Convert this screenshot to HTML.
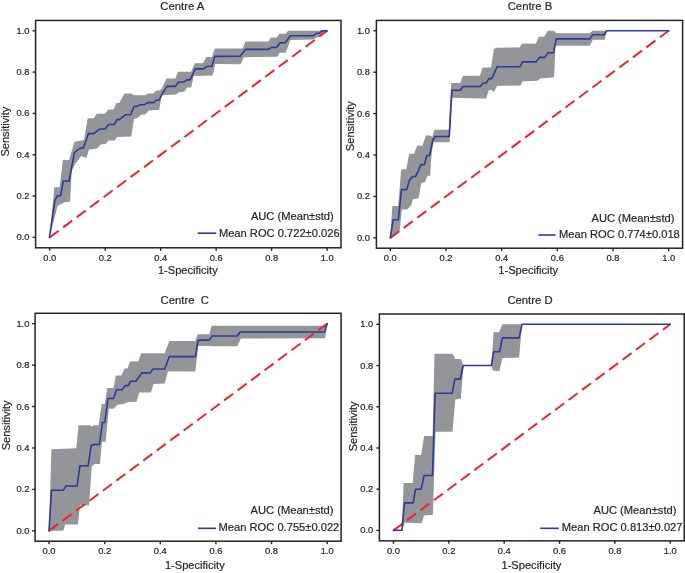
<!DOCTYPE html>
<html><head><meta charset="utf-8"><style>
html,body{margin:0;padding:0;background:#fff;}
svg{display:block;will-change:transform;}
text{font-family:"Liberation Sans", sans-serif;fill:#262626;stroke:#262626;stroke-width:0.2px;}
</style></head><body>
<svg width="685" height="573" viewBox="0 0 685 573">
<rect width="685" height="573" fill="#fff"/>
<polygon points="49.5,237.4 54.4,187.3 59.7,187.3 62.8,160.0 69.1,160.0 74.4,141.7 82.9,140.2 84.0,140.0 87.7,118.3 93.8,118.3 96.8,113.8 105.1,113.8 108.3,109.4 113.6,109.4 116.4,103.1 119.3,103.1 124.4,93.5 131.2,93.5 134.0,95.2 145.4,95.2 147.6,93.5 153.3,93.5 156.1,90.5 159.2,90.6 161.8,88.5 166.5,78.6 175.4,78.6 178.0,71.7 191.1,71.7 194.8,63.2 203.1,63.2 206.3,57.1 212.0,57.1 214.7,48.6 242.7,48.6 245.4,41.5 268.4,41.5 271.0,37.4 276.8,37.4 279.5,33.8 285.7,33.8 288.0,30.8 327.1,30.8 327.1,30.8 319.3,37.1 316.5,37.6 313.6,39.4 290.4,39.9 285.7,52.7 279.5,52.7 277.1,56.7 243.8,57.2 240.6,64.3 215.2,64.1 212.6,75.4 193.7,75.9 191.1,87.4 187.4,87.4 184.3,91.6 179.1,92.2 175.9,94.6 161.8,95.3 159.2,110.0 154.4,110.0 148.8,110.5 145.4,114.3 140.8,115.0 137.4,117.9 134.0,119.0 131.2,136.6 117.0,136.9 114.7,140.6 108.5,140.6 105.7,144.0 100.5,144.4 97.4,148.5 89.0,149.6 86.4,158.0 81.2,155.9 75.4,163.7 71.7,171.0 70.1,201.5 63.8,202.5 62.3,203.6 57.6,205.7 49.5,237.4" fill="#949599"/>
<line x1="49.72" y1="237.37" x2="327.10" y2="30.78" stroke="#e9252d" stroke-width="2" stroke-dasharray="11.2 5.6"/>
<polyline points="49.5,237.4 54.9,200.4 57.6,195.7 60.7,195.7 63.3,181.0 69.1,181.0 71.7,166.8 74.4,152.7 79.6,148.5 83.3,147.9 85.9,141.0 88.5,133.6 93.8,133.6 99.5,129.0 105.1,129.0 108.4,124.5 114.2,124.5 117.0,119.6 119.3,119.6 125.5,114.7 130.6,114.7 134.0,106.5 136.3,106.5 140.3,104.8 144.2,104.8 147.6,102.6 153.3,102.6 156.5,100.2 159.2,100.0 162.3,93.7 167.0,86.4 175.4,86.4 178.6,82.0 183.8,82.0 186.9,79.9 190.1,79.9 195.3,68.9 203.7,68.9 206.8,66.3 212.0,66.3 214.7,56.4 240.1,56.2 245.4,49.4 268.4,49.4 271.5,47.3 276.7,47.5 280.0,42.8 285.2,42.8 290.4,35.7 313.2,35.7 316.5,33.3 319.3,33.3 321.7,30.9 327.1,30.8" fill="none" stroke="#2f3a98" stroke-width="1.6" stroke-linejoin="round" stroke-linecap="square"/>
<rect x="35.60" y="20.45" width="305.40" height="227.35" fill="none" stroke="#252224" stroke-width="1.5"/>
<line x1="49.72" y1="247.80" x2="49.72" y2="250.80" stroke="#252224" stroke-width="1.4"/>
<line x1="32.60" y1="237.37" x2="35.60" y2="237.37" stroke="#252224" stroke-width="1.4"/>
<text transform="translate(49.72 260.75) scale(1.11 1)" font-size="8.4" text-anchor="middle">0.0</text>
<text transform="translate(29.50 240.37) scale(1.11 1)" font-size="8.4" text-anchor="end">0.0</text>
<line x1="105.20" y1="247.80" x2="105.20" y2="250.80" stroke="#252224" stroke-width="1.4"/>
<line x1="32.60" y1="196.05" x2="35.60" y2="196.05" stroke="#252224" stroke-width="1.4"/>
<text transform="translate(105.20 260.75) scale(1.11 1)" font-size="8.4" text-anchor="middle">0.2</text>
<text transform="translate(29.50 199.05) scale(1.11 1)" font-size="8.4" text-anchor="end">0.2</text>
<line x1="160.67" y1="247.80" x2="160.67" y2="250.80" stroke="#252224" stroke-width="1.4"/>
<line x1="32.60" y1="154.73" x2="35.60" y2="154.73" stroke="#252224" stroke-width="1.4"/>
<text transform="translate(160.67 260.75) scale(1.11 1)" font-size="8.4" text-anchor="middle">0.4</text>
<text transform="translate(29.50 157.73) scale(1.11 1)" font-size="8.4" text-anchor="end">0.4</text>
<line x1="216.15" y1="247.80" x2="216.15" y2="250.80" stroke="#252224" stroke-width="1.4"/>
<line x1="32.60" y1="113.42" x2="35.60" y2="113.42" stroke="#252224" stroke-width="1.4"/>
<text transform="translate(216.15 260.75) scale(1.11 1)" font-size="8.4" text-anchor="middle">0.6</text>
<text transform="translate(29.50 116.42) scale(1.11 1)" font-size="8.4" text-anchor="end">0.6</text>
<line x1="271.62" y1="247.80" x2="271.62" y2="250.80" stroke="#252224" stroke-width="1.4"/>
<line x1="32.60" y1="72.10" x2="35.60" y2="72.10" stroke="#252224" stroke-width="1.4"/>
<text transform="translate(271.62 260.75) scale(1.11 1)" font-size="8.4" text-anchor="middle">0.8</text>
<text transform="translate(29.50 75.10) scale(1.11 1)" font-size="8.4" text-anchor="end">0.8</text>
<line x1="327.10" y1="247.80" x2="327.10" y2="250.80" stroke="#252224" stroke-width="1.4"/>
<line x1="32.60" y1="30.78" x2="35.60" y2="30.78" stroke="#252224" stroke-width="1.4"/>
<text transform="translate(327.10 260.75) scale(1.11 1)" font-size="8.4" text-anchor="middle">1.0</text>
<text transform="translate(29.50 33.78) scale(1.11 1)" font-size="8.4" text-anchor="end">1.0</text>
<text x="160.30" y="9.60" font-size="11.3">Centre A</text>
<text transform="translate(9.20 131.65) rotate(-90)" font-size="11.1" text-anchor="middle">Sensitivity</text>
<text x="157.90" y="273.50" font-size="11.1">1-Specificity</text>
<text x="250.90" y="219.70" font-size="11.15">AUC (Mean±std)</text>
<text x="218.90" y="236.60" font-size="11.15">Mean ROC 0.722±0.026</text>
<line x1="197.60" y1="233.20" x2="216.30" y2="233.20" stroke="#2f3a98" stroke-width="1.6"/>
<polygon points="390.3,237.9 392.3,206.1 398.3,206.1 401.1,169.5 406.3,169.3 409.1,153.7 414.0,153.7 417.4,145.3 422.3,146.0 426.0,135.5 430.5,135.5 432.3,137.0 434.5,129.7 448.8,129.7 451.2,83.1 460.2,83.1 463.0,75.8 479.8,75.8 482.6,67.4 491.0,67.4 493.8,49.5 495.8,47.7 519.4,47.4 522.3,43.5 535.9,43.7 538.7,36.8 544.3,36.8 547.8,30.8 554.1,30.8 556.2,33.3 589.7,33.3 592.5,30.8 668.7,30.8 668.7,30.8 606.7,30.8 604.7,39.7 592.9,39.7 589.7,45.8 555.5,45.8 554.1,77.2 546.4,77.9 540.1,78.6 537.3,80.7 522.8,81.2 520.4,85.5 497.2,85.8 493.8,92.1 491.7,90.0 488.9,90.0 486.1,98.4 481.2,98.4 452.2,97.7 449.6,142.3 433.3,142.3 431.0,160.0 430.2,175.8 427.6,175.8 425.0,182.0 421.3,183.0 418.5,198.4 412.9,199.1 411.5,204.7 407.3,209.6 401.8,209.6 399.7,230.5 390.3,237.9" fill="#949599"/>
<line x1="390.30" y1="237.85" x2="668.70" y2="30.75" stroke="#e9252d" stroke-width="2" stroke-dasharray="11.2 5.6"/>
<polyline points="390.3,237.9 393.1,219.8 398.3,219.8 401.5,189.6 406.6,189.6 409.9,179.6 412.7,176.5 415.3,176.5 418.1,171.5 420.9,164.6 424.4,164.6 426.8,155.5 429.5,155.5 432.8,140.0 435.2,136.5 449.2,136.5 451.9,90.3 460.2,90.3 463.0,86.5 480.5,86.5 483.3,83.0 486.1,83.0 488.9,78.6 491.7,78.6 497.2,66.7 519.9,66.7 522.7,61.9 535.9,61.9 539.4,57.4 545.0,57.4 547.8,52.8 553.4,52.8 556.2,38.9 589.9,38.9 592.7,34.7 604.1,34.7 606.7,30.8 668.7,30.8" fill="none" stroke="#2f3a98" stroke-width="1.6" stroke-linejoin="round" stroke-linecap="square"/>
<rect x="376.40" y="20.40" width="306.20" height="227.80" fill="none" stroke="#252224" stroke-width="1.5"/>
<line x1="390.30" y1="248.20" x2="390.30" y2="251.20" stroke="#252224" stroke-width="1.4"/>
<line x1="373.40" y1="237.85" x2="376.40" y2="237.85" stroke="#252224" stroke-width="1.4"/>
<text transform="translate(390.30 261.15) scale(1.11 1)" font-size="8.4" text-anchor="middle">0.0</text>
<text transform="translate(369.90 240.85) scale(1.11 1)" font-size="8.4" text-anchor="end">0.0</text>
<line x1="445.98" y1="248.20" x2="445.98" y2="251.20" stroke="#252224" stroke-width="1.4"/>
<line x1="373.40" y1="196.43" x2="376.40" y2="196.43" stroke="#252224" stroke-width="1.4"/>
<text transform="translate(445.98 261.15) scale(1.11 1)" font-size="8.4" text-anchor="middle">0.2</text>
<text transform="translate(369.90 199.43) scale(1.11 1)" font-size="8.4" text-anchor="end">0.2</text>
<line x1="501.66" y1="248.20" x2="501.66" y2="251.20" stroke="#252224" stroke-width="1.4"/>
<line x1="373.40" y1="155.01" x2="376.40" y2="155.01" stroke="#252224" stroke-width="1.4"/>
<text transform="translate(501.66 261.15) scale(1.11 1)" font-size="8.4" text-anchor="middle">0.4</text>
<text transform="translate(369.90 158.01) scale(1.11 1)" font-size="8.4" text-anchor="end">0.4</text>
<line x1="557.34" y1="248.20" x2="557.34" y2="251.20" stroke="#252224" stroke-width="1.4"/>
<line x1="373.40" y1="113.59" x2="376.40" y2="113.59" stroke="#252224" stroke-width="1.4"/>
<text transform="translate(557.34 261.15) scale(1.11 1)" font-size="8.4" text-anchor="middle">0.6</text>
<text transform="translate(369.90 116.59) scale(1.11 1)" font-size="8.4" text-anchor="end">0.6</text>
<line x1="613.02" y1="248.20" x2="613.02" y2="251.20" stroke="#252224" stroke-width="1.4"/>
<line x1="373.40" y1="72.17" x2="376.40" y2="72.17" stroke="#252224" stroke-width="1.4"/>
<text transform="translate(613.02 261.15) scale(1.11 1)" font-size="8.4" text-anchor="middle">0.8</text>
<text transform="translate(369.90 75.17) scale(1.11 1)" font-size="8.4" text-anchor="end">0.8</text>
<line x1="668.70" y1="248.20" x2="668.70" y2="251.20" stroke="#252224" stroke-width="1.4"/>
<line x1="373.40" y1="30.75" x2="376.40" y2="30.75" stroke="#252224" stroke-width="1.4"/>
<text transform="translate(668.70 261.15) scale(1.11 1)" font-size="8.4" text-anchor="middle">1.0</text>
<text transform="translate(369.90 33.75) scale(1.11 1)" font-size="8.4" text-anchor="end">1.0</text>
<text x="507.70" y="9.70" font-size="11.3">Centre B</text>
<text transform="translate(354.40 126.20) rotate(-90)" font-size="11.1" text-anchor="middle">Sensitivity</text>
<text x="498.30" y="273.50" font-size="11.1">1-Specificity</text>
<text x="591.50" y="221.50" font-size="11.15">AUC (Mean±std)</text>
<text x="559.10" y="237.90" font-size="11.15">Mean ROC 0.774±0.018</text>
<line x1="538.40" y1="235.00" x2="555.60" y2="235.00" stroke="#2f3a98" stroke-width="1.6"/>
<polygon points="49.0,530.8 51.4,449.3 76.2,448.3 78.5,425.2 89.9,425.2 91.5,426.5 93.8,425.2 98.6,425.2 101.7,404.0 104.8,404.0 107.2,388.0 113.5,388.0 115.8,375.4 121.3,375.4 124.5,368.6 127.6,368.6 130.0,361.4 138.5,361.2 141.1,353.3 164.7,353.3 169.3,340.9 195.4,340.9 197.6,334.3 209.3,334.3 211.6,325.7 324.6,325.7 327.2,323.7 327.2,323.7 325.1,338.2 240.8,338.6 237.3,346.3 211.0,346.3 209.3,346.0 198.2,346.0 195.4,371.6 167.9,371.6 164.7,383.4 153.6,384.1 150.9,392.6 139.2,392.6 136.5,401.7 128.4,402.1 123.7,404.0 117.4,404.8 113.5,408.7 108.8,408.7 105.6,441.7 101.9,441.7 100.0,464.0 94.5,464.0 91.8,466.7 89.0,505.2 79.9,505.2 78.0,524.5 65.2,524.5 63.3,530.8 49.0,530.8" fill="#949599"/>
<line x1="49.00" y1="530.84" x2="327.20" y2="323.66" stroke="#e9252d" stroke-width="2" stroke-dasharray="11.2 5.6"/>
<polyline points="49.0,530.8 51.5,490.2 63.4,490.2 66.0,486.0 77.1,486.0 79.9,465.8 88.1,465.8 91.2,445.6 93.8,444.5 99.3,444.5 102.5,422.5 104.8,422.5 108.0,398.5 113.5,398.5 116.6,389.8 122.1,389.8 125.3,385.6 128.4,385.6 130.4,381.3 135.9,381.3 141.8,372.9 150.3,372.9 152.9,369.0 164.7,369.0 169.3,356.6 195.4,356.6 198.1,340.1 209.3,340.1 212.2,336.0 237.3,336.0 240.2,332.0 324.6,332.0 327.2,323.7" fill="none" stroke="#2f3a98" stroke-width="1.6" stroke-linejoin="round" stroke-linecap="square"/>
<rect x="35.10" y="313.30" width="306.00" height="227.90" fill="none" stroke="#252224" stroke-width="1.5"/>
<line x1="49.00" y1="541.20" x2="49.00" y2="544.20" stroke="#252224" stroke-width="1.4"/>
<line x1="32.10" y1="530.84" x2="35.10" y2="530.84" stroke="#252224" stroke-width="1.4"/>
<text transform="translate(49.00 554.15) scale(1.11 1)" font-size="8.4" text-anchor="middle">0.0</text>
<text transform="translate(29.40 533.84) scale(1.11 1)" font-size="8.4" text-anchor="end">0.0</text>
<line x1="104.64" y1="541.20" x2="104.64" y2="544.20" stroke="#252224" stroke-width="1.4"/>
<line x1="32.10" y1="489.40" x2="35.10" y2="489.40" stroke="#252224" stroke-width="1.4"/>
<text transform="translate(104.64 554.15) scale(1.11 1)" font-size="8.4" text-anchor="middle">0.2</text>
<text transform="translate(29.40 492.40) scale(1.11 1)" font-size="8.4" text-anchor="end">0.2</text>
<line x1="160.28" y1="541.20" x2="160.28" y2="544.20" stroke="#252224" stroke-width="1.4"/>
<line x1="32.10" y1="447.97" x2="35.10" y2="447.97" stroke="#252224" stroke-width="1.4"/>
<text transform="translate(160.28 554.15) scale(1.11 1)" font-size="8.4" text-anchor="middle">0.4</text>
<text transform="translate(29.40 450.97) scale(1.11 1)" font-size="8.4" text-anchor="end">0.4</text>
<line x1="215.92" y1="541.20" x2="215.92" y2="544.20" stroke="#252224" stroke-width="1.4"/>
<line x1="32.10" y1="406.53" x2="35.10" y2="406.53" stroke="#252224" stroke-width="1.4"/>
<text transform="translate(215.92 554.15) scale(1.11 1)" font-size="8.4" text-anchor="middle">0.6</text>
<text transform="translate(29.40 409.53) scale(1.11 1)" font-size="8.4" text-anchor="end">0.6</text>
<line x1="271.56" y1="541.20" x2="271.56" y2="544.20" stroke="#252224" stroke-width="1.4"/>
<line x1="32.10" y1="365.10" x2="35.10" y2="365.10" stroke="#252224" stroke-width="1.4"/>
<text transform="translate(271.56 554.15) scale(1.11 1)" font-size="8.4" text-anchor="middle">0.8</text>
<text transform="translate(29.40 368.10) scale(1.11 1)" font-size="8.4" text-anchor="end">0.8</text>
<line x1="327.20" y1="541.20" x2="327.20" y2="544.20" stroke="#252224" stroke-width="1.4"/>
<line x1="32.10" y1="323.66" x2="35.10" y2="323.66" stroke="#252224" stroke-width="1.4"/>
<text transform="translate(327.20 554.15) scale(1.11 1)" font-size="8.4" text-anchor="middle">1.0</text>
<text transform="translate(29.40 326.66) scale(1.11 1)" font-size="8.4" text-anchor="end">1.0</text>
<text x="160.60" y="303.90" font-size="11.3">Centre  C</text>
<text transform="translate(9.80 425.40) rotate(-90)" font-size="11.1" text-anchor="middle">Sensitivity</text>
<text x="164.90" y="569.10" font-size="11.1">1-Specificity</text>
<text x="250.60" y="513.80" font-size="11.15">AUC (Mean±std)</text>
<text x="218.60" y="531.20" font-size="11.15">Mean ROC 0.755±0.022</text>
<line x1="197.90" y1="528.30" x2="216.00" y2="528.30" stroke="#2f3a98" stroke-width="1.6"/>
<polygon points="393.5,530.4 401.9,530.3 403.6,483.0 412.7,483.0 415.1,455.1 421.1,455.1 424.1,436.1 432.6,436.1 434.5,353.8 452.5,353.8 455.3,358.9 460.8,358.9 463.5,365.5 491.4,365.5 493.6,332.2 499.1,332.2 502.3,324.3 670.2,324.3 670.2,324.3 522.0,324.3 519.1,357.6 502.3,358.1 499.4,371.2 492.8,370.5 491.4,365.5 463.5,365.5 460.8,398.7 455.3,399.6 452.5,431.7 435.5,431.7 432.9,514.8 424.0,515.4 421.7,523.3 404.7,522.7 401.9,530.4 393.5,530.4" fill="#949599"/>
<line x1="393.50" y1="530.40" x2="670.20" y2="324.30" stroke="#e9252d" stroke-width="2" stroke-dasharray="11.2 5.6"/>
<polyline points="393.5,530.4 401.9,530.3 404.5,502.9 413.2,502.9 415.5,489.3 421.2,489.3 424.0,475.5 432.5,475.5 435.1,393.2 452.2,393.2 454.9,379.1 460.2,379.1 463.2,365.5 491.4,365.5 493.6,351.8 499.7,351.8 502.3,337.9 519.1,337.9 522.0,324.3 670.2,324.3" fill="none" stroke="#2f3a98" stroke-width="1.6" stroke-linejoin="round" stroke-linecap="square"/>
<rect x="379.40" y="314.00" width="304.80" height="226.85" fill="none" stroke="#252224" stroke-width="1.5"/>
<line x1="393.50" y1="540.85" x2="393.50" y2="543.85" stroke="#252224" stroke-width="1.4"/>
<line x1="376.40" y1="530.40" x2="379.40" y2="530.40" stroke="#252224" stroke-width="1.4"/>
<text transform="translate(393.50 553.80) scale(1.11 1)" font-size="8.4" text-anchor="middle">0.0</text>
<text transform="translate(373.30 533.40) scale(1.11 1)" font-size="8.4" text-anchor="end">0.0</text>
<line x1="448.84" y1="540.85" x2="448.84" y2="543.85" stroke="#252224" stroke-width="1.4"/>
<line x1="376.40" y1="489.18" x2="379.40" y2="489.18" stroke="#252224" stroke-width="1.4"/>
<text transform="translate(448.84 553.80) scale(1.11 1)" font-size="8.4" text-anchor="middle">0.2</text>
<text transform="translate(373.30 492.18) scale(1.11 1)" font-size="8.4" text-anchor="end">0.2</text>
<line x1="504.18" y1="540.85" x2="504.18" y2="543.85" stroke="#252224" stroke-width="1.4"/>
<line x1="376.40" y1="447.96" x2="379.40" y2="447.96" stroke="#252224" stroke-width="1.4"/>
<text transform="translate(504.18 553.80) scale(1.11 1)" font-size="8.4" text-anchor="middle">0.4</text>
<text transform="translate(373.30 450.96) scale(1.11 1)" font-size="8.4" text-anchor="end">0.4</text>
<line x1="559.52" y1="540.85" x2="559.52" y2="543.85" stroke="#252224" stroke-width="1.4"/>
<line x1="376.40" y1="406.74" x2="379.40" y2="406.74" stroke="#252224" stroke-width="1.4"/>
<text transform="translate(559.52 553.80) scale(1.11 1)" font-size="8.4" text-anchor="middle">0.6</text>
<text transform="translate(373.30 409.74) scale(1.11 1)" font-size="8.4" text-anchor="end">0.6</text>
<line x1="614.86" y1="540.85" x2="614.86" y2="543.85" stroke="#252224" stroke-width="1.4"/>
<line x1="376.40" y1="365.52" x2="379.40" y2="365.52" stroke="#252224" stroke-width="1.4"/>
<text transform="translate(614.86 553.80) scale(1.11 1)" font-size="8.4" text-anchor="middle">0.8</text>
<text transform="translate(373.30 368.52) scale(1.11 1)" font-size="8.4" text-anchor="end">0.8</text>
<line x1="670.20" y1="540.85" x2="670.20" y2="543.85" stroke="#252224" stroke-width="1.4"/>
<line x1="376.40" y1="324.30" x2="379.40" y2="324.30" stroke="#252224" stroke-width="1.4"/>
<text transform="translate(670.20 553.80) scale(1.11 1)" font-size="8.4" text-anchor="middle">1.0</text>
<text transform="translate(373.30 327.30) scale(1.11 1)" font-size="8.4" text-anchor="end">1.0</text>
<text x="507.40" y="303.90" font-size="11.3">Centre D</text>
<text transform="translate(356.50 426.40) rotate(-90)" font-size="11.1" text-anchor="middle">Sensitivity</text>
<text x="501.50" y="569.10" font-size="11.1">1-Specificity</text>
<text x="593.50" y="513.80" font-size="11.15">AUC (Mean±std)</text>
<text x="561.80" y="530.90" font-size="11.15">Mean ROC 0.813±0.027</text>
<line x1="540.20" y1="528.30" x2="558.70" y2="528.30" stroke="#2f3a98" stroke-width="1.6"/>
</svg>
</body></html>
